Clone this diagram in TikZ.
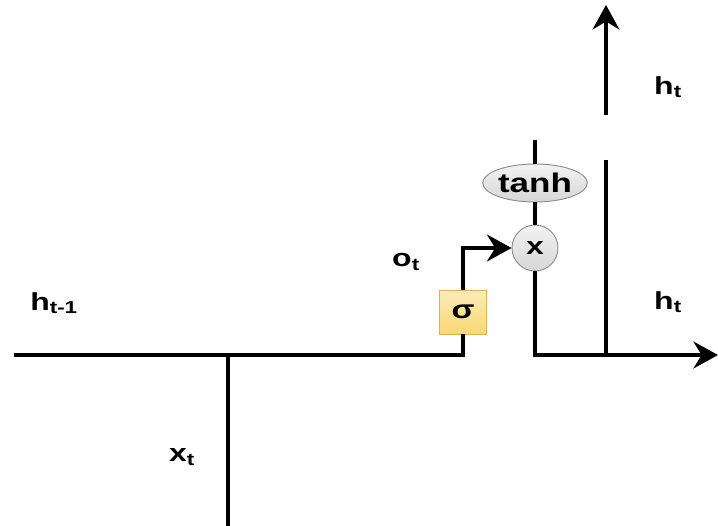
\documentclass[tikz,border=0pt]{standalone}
\usepackage{fontspec}
\setmainfont{Liberation Sans}
\newfontfamily\lblfont[FakeStretch=1.3]{Liberation Sans}
\usetikzlibrary{arrows.meta,shapes.geometric}
\definecolor{gatefill}{HTML}{F9D872}
\definecolor{gateedge}{HTML}{D9B450}
\definecolor{opfill}{HTML}{D6D6D6}
\definecolor{opedge}{HTML}{8C8C8C}

\begin{document}
\begin{tikzpicture}[x=0.03cm, y=-0.03cm,
  wire/.style={line width=2.8pt},
  flow/.style={wire, -{Stealth[length=21pt, width=23pt, inset=7pt]}},
  lbl/.style={font=\fontsize{21}{24}\lblfont\bfseries},
  gate/.style={draw=gateedge, line width=0.8pt, top color=gatefill!50!white, bottom color=gatefill,
    minimum width=1.41cm, minimum height=1.32cm, inner sep=0pt, font=\fontsize{22}{24}\lblfont\bfseries},
  mulop/.style={circle, draw=opedge, line width=0.8pt, top color=opfill!30!white, bottom color=opfill,
    minimum size=1.38cm, inner sep=0pt, font=\fontsize{21}{24}\lblfont\bfseries},
  actop/.style={ellipse, draw=opedge, line width=0.8pt, top color=opfill!30!white, bottom color=opfill,
    minimum width=2.88cm, minimum height=1.14cm, inner sep=0pt, font=\fontsize{23}{24}\lblfont\bfseries}]
  \useasboundingbox (0,0) rectangle (718,526);

  % output gate and the pointwise ops
  \node[gate] (sig) at (463,312) {σ};
  \node[mulop] (mul) at (535,248) {x};
  \node[actop] (tanh) at (535,183) {tanh};

  % free ends of the wires
  \coordinate (hin) at (14,355);
  \coordinate (bend) at (463,355);
  \coordinate (join) at (228,355);
  \coordinate (xin) at (228,526);
  \coordinate (ctop) at (535,140);
  \coordinate (hout) at (718,355);
  \coordinate (tap) at (606,355);
  \coordinate (tapend) at (606,160);
  \coordinate (uplo) at (606,115);
  \coordinate (uphi) at (606,5);

  % input lines into the output gate
  \draw[wire] (hin) -- (bend) -- (sig.south);
  \draw[wire] (xin) -- (join);
  \draw[flow] (sig.north) |- (mul.west);

  % cell state through tanh into the product
  \draw[wire] (ctop) -- (tanh.north);
  \draw[wire] (tanh.south) -- (mul.north);

  % hidden state going out
  \draw[flow] (mul.south) |- (hout);
  \draw[wire] (tap) -- (tapend);
  \draw[line width=4pt] (tapend) -- ++(0,18);
  \draw[flow] (uplo) -- (uphi);

  % labels
  \node[lbl] (hup) at (668,87) {h\textsubscript{t}};
  \node[lbl] (hright) at (668,302) {h\textsubscript{t}};
  \node[lbl] (ot) at (406,262) {o\textsubscript{t}};
  \node[lbl] (hprev) at (54,303) {h\textsubscript{t-1}};
  \node[lbl] (xt) at (182,457) {x\textsubscript{t}};
\end{tikzpicture}
\end{document}
